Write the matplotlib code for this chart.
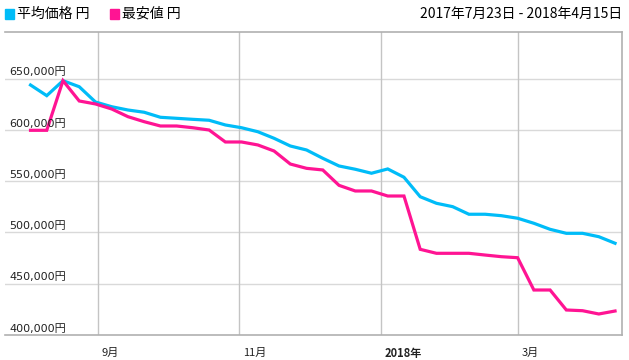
import datetime as dt
import matplotlib
matplotlib.use("Agg")
import matplotlib.pyplot as plt
import matplotlib.dates as mdates
import matplotlib.patches as mpatches
import pandas as pd

#--data--#
start_date = "2017-08-03"
avg_price = [643900, 633500, 648100, 642200, 627300, 622700, 619500, 617300, 612400, 611400,
             610400, 609500, 604900, 602200, 598300, 591900, 584400, 580500, 572400, 564900,
             561700, 557800, 562000, 553900, 534900, 528500, 525200, 517800, 517800, 516400,
             513900, 509000, 503100, 499200, 499200, 495900, 489500]
min_price = [599700, 599700, 648100, 628300, 625400, 620500, 613000, 608100, 603900, 603900,
             602200, 600000, 588300, 588300, 585400, 579500, 566800, 562600, 561000, 546000,
             540500, 540500, 535600, 535600, 483600, 479700, 479700, 479700, 478000, 476400,
             475400, 443900, 443900, 424400, 423700, 420500, 423400]
y_ticks = [400000, 450000, 500000, 550000, 600000, 650000]
month_ticks = ["2017-09-01", "2017-11-01", "2018-01-01", "2018-03-01"]
month_labels = ["9月", "11月", "2018年", "3月"]
legend_names = ["平均価格 円", "最安値 円"]
range_text = "2017年7月23日 - 2018年4月15日"

dates = pd.date_range(start_date, periods=len(avg_price), freq="7D")

BLUE = "#00bcf8"
PINK = "#ff1493"
JP = ["Noto Sans CJK JP", "DejaVu Sans"]
NUM = ["DejaVu Sans", "Noto Sans CJK JP"]

fig = plt.figure(figsize=(6.29, 3.6), dpi=100)
ax = fig.add_axes([5 / 629, 1 - 335 / 360, 617 / 629, 303 / 360])

ax.plot(dates, avg_price, color=BLUE, lw=2.3, solid_joinstyle="miter", zorder=3)
ax.plot(dates, min_price, color=PINK, lw=2.3, solid_joinstyle="miter", zorder=3)

ax.set_xlim(dt.datetime(2017, 7, 23), dt.datetime(2018, 4, 15))
ax.set_ylim(400000, 695600)

# gridlines
for v in y_ticks[1:]:
    ax.axhline(v, color="#d9d9d9", lw=1, zorder=1)
for m in month_ticks:
    ax.axvline(pd.Timestamp(m), color="#c4c4c4", lw=1, zorder=1)

ax.set_xticks([])
ax.set_yticks([])
for s in ["left"]:
    ax.spines[s].set_visible(False)
for s in ["top", "right", "bottom"]:
    ax.spines[s].set_color("#b0b0b0")
    ax.spines[s].set_linewidth(1.2)

# y labels sitting above gridlines, inside plot
for v in y_ticks:
    ax.annotate(f"{v:,}円", xy=(0, v), xycoords=("axes fraction", "data"),
                xytext=(3, 1), textcoords="offset points", ha="left", va="bottom",
                fontsize=8, family=NUM, color="#222222")

# month labels below axis
for m, lab in zip(month_ticks, month_labels):
    ax.annotate(lab, xy=(pd.Timestamp(m), 0), xycoords=("data", "axes fraction"),
                xytext=(3, -9), textcoords="offset points", ha="left", va="top",
                fontsize=8, family=JP, color="#222222",
                fontweight="bold" if "年" in lab else "normal")

# legend and date range
fig.patches.append(mpatches.Rectangle((5 / 629, 1 - 19 / 360), 9 / 629, 10 / 360,
                                      transform=fig.transFigure, color=BLUE))
fig.text(17 / 629, 1 - 14 / 360, legend_names[0], fontsize=10, family=JP, va="center")
fig.patches.append(mpatches.Rectangle((110 / 629, 1 - 19 / 360), 9 / 629, 10 / 360,
                                      transform=fig.transFigure, color=PINK))
fig.text(122 / 629, 1 - 14 / 360, legend_names[1], fontsize=10, family=JP, va="center")
fig.text(622 / 629, 1 - 14 / 360, range_text, fontsize=10, family=JP, va="center", ha="right")

fig.savefig("out.png", dpi=100)
